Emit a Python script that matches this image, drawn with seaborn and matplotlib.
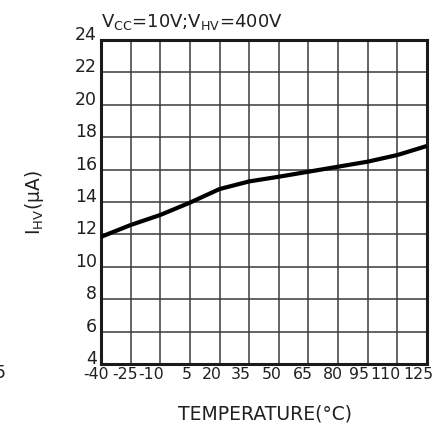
import matplotlib
matplotlib.use("Agg")
import matplotlib.pyplot as plt
import matplotlib.transforms as mtransforms
import numpy as np
import pandas as pd
import seaborn as sns

# Supply current vs. temperature
temperature = [-40, -25, -10, 5, 20, 35, 50, 65, 80, 95, 110, 125]
current_ua = [11.85, 12.58, 13.2, 13.96, 14.8, 15.27, 15.56, 15.87, 16.18, 16.49, 16.9, 17.46]
y_ticks = [4, 6, 8, 10, 12, 14, 16, 18, 20, 22, 24]
x_ticks = temperature
# horizontal nudge (px) of each temperature label, packed tightly under the grid
x_label_shift = [-5, -6, -9, -3, -8, -8, -7, -6, -5, -9, -12, -9]

df = pd.DataFrame({"T": temperature, "I": current_ua})

sns.set_style("white")
plt.rcParams["font.family"] = ["DejaVu Sans"]
text_color = "#231f20"

fig = plt.figure(figsize=(4.47, 4.26), dpi=100)
ax = fig.add_axes([101 / 447, 62 / 426, 326 / 447, 324 / 426])

sns.lineplot(data=df, x="T", y="I", ax=ax, color="black", linewidth=3.0,
             solid_capstyle="butt", zorder=5)

ax.set_xlim(-40, 125)
ax.set_ylim(4, 24)
ax.set_xticks(x_ticks)
ax.set_yticks(y_ticks)
ax.set_xticklabels([str(t) for t in x_ticks])
ax.set_yticklabels([str(t) for t in y_ticks])
ax.grid(True, color="#3a3a3a", linewidth=1.1)
ax.set_axisbelow(True)
ax.tick_params(axis="both", length=0, colors=text_color)
ax.tick_params(axis="x", pad=2.5, labelsize=11.3)
ax.tick_params(axis="y", pad=3, labelsize=12.5)

for lbl, dx in zip(ax.get_xticklabels(), x_label_shift):
    lbl.set_transform(lbl.get_transform() + mtransforms.ScaledTranslation(dx / 100, 0, fig.dpi_scale_trans))
for lbl in ax.get_yticklabels():
    lbl.set_transform(lbl.get_transform() + mtransforms.ScaledTranslation(0, 7 / 100, fig.dpi_scale_trans))

for side in ["left", "right", "top", "bottom"]:
    ax.spines[side].set_visible(True)
    ax.spines[side].set_color("#1a1a1a")
    ax.spines[side].set_linewidth(2.2)

ax.set_xlabel("")
ax.set_ylabel("")

fig.text(265 / 447, 1 - 419 / 426, "TEMPERATURE(°C)", ha="center", va="baseline",
         fontsize=13.5, color=text_color)
fig.text(35 / 447, 1 - 203 / 426, r"I$_{\rm HV}$(μA)", ha="center", va="center",
         rotation=90, fontsize=13.5, color=text_color)
fig.text(101 / 447, 1 - 27 / 426, r"V$_{\rm CC}$=10V;V$_{\rm HV}$=400V", ha="left",
         va="baseline", fontsize=13, color=text_color)
fig.text(-5 / 447, 1 - 378 / 426, "5", ha="left", va="baseline", fontsize=12.5,
         color=text_color)

fig.savefig("out.png", dpi=100)
